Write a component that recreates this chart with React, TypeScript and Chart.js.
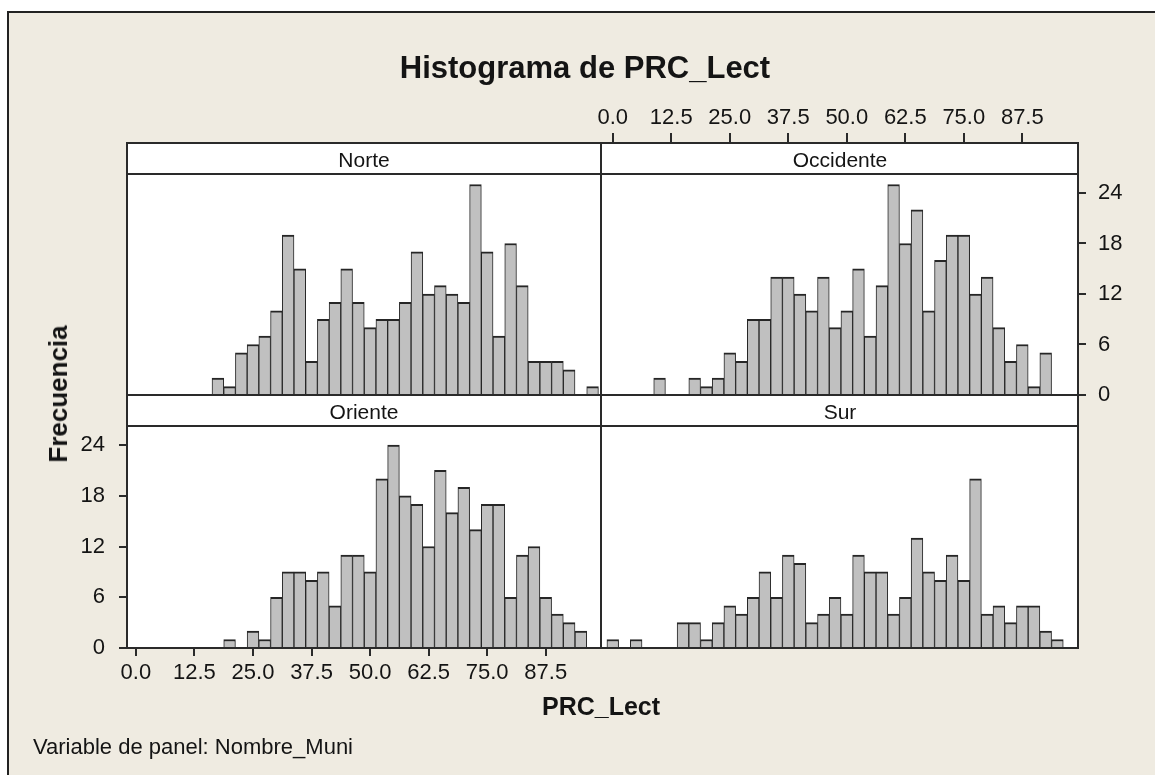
import React, { useEffect, useRef } from 'react';
import { Chart, registerables } from 'chart.js';

Chart.register(...registerables);

// ---------- data ----------
const BIN_MIDPOINTS = [
  0, 2.5, 5, 7.5, 10, 12.5, 15, 17.5, 20, 22.5, 25, 27.5, 30, 32.5, 35, 37.5, 40, 42.5, 45, 47.5,
  50, 52.5, 55, 57.5, 60, 62.5, 65, 67.5, 70, 72.5, 75, 77.5, 80, 82.5, 85, 87.5, 90, 92.5, 95, 97.5,
];
const NORTE = [
  0, 0, 0, 0, 0, 0, 0, 2, 1, 5, 6, 7, 10, 19, 15, 4, 9, 11, 15, 11,
  8, 9, 9, 11, 17, 12, 13, 12, 11, 25, 17, 7, 18, 13, 4, 4, 4, 3, 0, 1,
];
const OCCIDENTE = [
  0, 0, 0, 0, 2, 0, 0, 2, 1, 2, 5, 4, 9, 9, 14, 14, 12, 10, 14, 8,
  10, 15, 7, 13, 25, 18, 22, 10, 16, 19, 19, 12, 14, 8, 4, 6, 1, 5, 0, 0,
];
const ORIENTE = [
  0, 0, 0, 0, 0, 0, 0, 0, 1, 0, 2, 1, 6, 9, 9, 8, 9, 5, 11, 11,
  9, 20, 24, 18, 17, 12, 21, 16, 19, 14, 17, 17, 6, 11, 12, 6, 4, 3, 2, 0,
];
const SUR = [
  1, 0, 1, 0, 0, 0, 3, 3, 1, 3, 5, 4, 6, 9, 6, 11, 10, 3, 4, 6,
  4, 11, 9, 9, 4, 6, 13, 9, 8, 11, 8, 20, 4, 5, 3, 5, 5, 2, 1, 0,
];
const X_TICKS = [0, 12.5, 25, 37.5, 50, 62.5, 75, 87.5];
const Y_TICKS = [0, 6, 12, 18, 24];

const TITLE = 'Histograma de PRC_Lect';
const X_TITLE = 'PRC_Lect';
const Y_TITLE = 'Frecuencia';
const FOOTNOTE = 'Variable de panel: Nombre_Muni';

// ---------- styles ----------
const FONT = "'Liberation Sans', Arial, sans-serif";
const TEXT = '#141414';
const LINE = '#2a2a2a';
const W = 1155;
const H = 775;

const whiteBg = {
  id: 'whiteBg',
  beforeDraw(chart: any) {
    const { ctx, chartArea } = chart;
    ctx.save();
    ctx.fillStyle = '#ffffff';
    ctx.fillRect(chartArea.left, chartArea.top, chartArea.right - chartArea.left, chartArea.bottom - chartArea.top);
    ctx.restore();
  },
};

type PanelOpts = {
  counts: number[];
  padding: { top: number; left: number; right: number; bottom: number };
  xMin: number;
  xMax: number;
  showX: boolean;
  xPos: 'top' | 'bottom';
  xTickLen: number;
  xPad: number;
  xSize: number;
  showY: boolean;
  yPos: 'left' | 'right';
  yPad: number;
  ySize: number;
};

function buildConfig(p: PanelOpts): any {
  const tickFont = { family: FONT, size: 22 };
  return {
    type: 'bar',
    data: {
      datasets: [
        {
          data: BIN_MIDPOINTS.map((x, i) => ({ x, y: p.counts[i] })),
          backgroundColor: '#c0c0c0',
          borderColor: '#262626',
          borderWidth: { top: 2, left: 1, right: 1, bottom: 0 },
          borderSkipped: 'start',
          barPercentage: 1,
          categoryPercentage: 1,
        },
      ],
    },
    options: {
      responsive: false,
      animation: false,
      events: [],
      layout: { padding: p.padding },
      plugins: { legend: { display: false }, tooltip: { enabled: false }, title: { display: false } },
      scales: {
        x: {
          type: 'linear',
          position: p.xPos,
          display: p.showX,
          min: p.xMin,
          max: p.xMax,
          offset: false,
          afterBuildTicks: (s: any) => {
            s.ticks = X_TICKS.map((v) => ({ value: v }));
          },
          afterFit: (s: any) => {
            s.height = p.xSize;
          },
          ticks: {
            font: tickFont,
            color: TEXT,
            padding: p.xPad,
            maxRotation: 0,
            minRotation: 0,
            autoSkip: false,
            callback: (v: any) => Number(v).toFixed(1),
          },
          grid: {
            display: true,
            drawOnChartArea: false,
            drawTicks: true,
            tickLength: p.xTickLen,
            color: LINE,
            lineWidth: 2,
            offset: false,
          },
          border: { display: false },
        },
        y: {
          type: 'linear',
          position: p.yPos,
          display: p.showY,
          min: 0,
          max: 26.25,
          afterBuildTicks: (s: any) => {
            s.ticks = Y_TICKS.map((v) => ({ value: v }));
          },
          afterFit: (s: any) => {
            s.width = p.ySize;
          },
          ticks: { font: tickFont, color: TEXT, padding: p.yPad, autoSkip: false },
          grid: {
            display: true,
            drawOnChartArea: false,
            drawTicks: true,
            tickLength: 8,
            color: LINE,
            lineWidth: 2,
          },
          border: { display: false },
        },
      },
    },
    plugins: [whiteBg],
  };
}

// Panel geometry (pixels of the page)
const LEFT_X0 = 127;
const MID_X = 601;
const RIGHT_X0 = 602;
const RIGHT_X1 = 1078;
const TOP_STRIP = 143;
const TOP_PLOT = 174;
const MID_Y = 395;
const BOT_PLOT = 426;
const BOT_Y = 648;

const PANELS: PanelOpts[] = [
  // Norte (top-left)
  {
    counts: NORTE,
    padding: { top: TOP_PLOT, left: LEFT_X0, right: W - MID_X, bottom: H - MID_Y },
    xMin: -1.9, xMax: 99.3, showX: false, xPos: 'bottom', xTickLen: 8, xPad: 4, xSize: 0,
    showY: false, yPos: 'left', yPad: 14, ySize: 0,
  },
  // Occidente (top-right) with top x axis and right y axis
  {
    counts: OCCIDENTE,
    padding: { top: TOP_PLOT - 80, left: RIGHT_X0, right: W - RIGHT_X1 - 60, bottom: H - MID_Y },
    xMin: -2.3, xMax: 99.4, showX: true, xPos: 'top', xTickLen: 41, xPad: 2, xSize: 80,
    showY: true, yPos: 'right', yPad: 12, ySize: 60,
  },
  // Oriente (bottom-left) with bottom x axis and left y axis
  {
    counts: ORIENTE,
    padding: { top: BOT_PLOT, left: LEFT_X0 - 60, right: W - MID_X, bottom: H - BOT_Y - 50 },
    xMin: -1.9, xMax: 99.3, showX: true, xPos: 'bottom', xTickLen: 8, xPad: 4, xSize: 50,
    showY: true, yPos: 'left', yPad: 14, ySize: 60,
  },
  // Sur (bottom-right)
  {
    counts: SUR,
    padding: { top: BOT_PLOT, left: RIGHT_X0, right: W - RIGHT_X1, bottom: H - BOT_Y },
    xMin: -2.3, xMax: 99.4, showX: false, xPos: 'bottom', xTickLen: 8, xPad: 4, xSize: 0,
    showY: false, yPos: 'right', yPad: 12, ySize: 0,
  },
];

const STRIPS = [
  { label: 'Norte', x: (LEFT_X0 + MID_X) / 2, y: (TOP_STRIP + TOP_PLOT) / 2 },
  { label: 'Occidente', x: (RIGHT_X0 + RIGHT_X1) / 2, y: (TOP_STRIP + TOP_PLOT) / 2 },
  { label: 'Oriente', x: (LEFT_X0 + MID_X) / 2, y: (MID_Y + BOT_PLOT) / 2 },
  { label: 'Sur', x: (RIGHT_X0 + RIGHT_X1) / 2, y: (MID_Y + BOT_PLOT) / 2 },
];

function Panel({ opts }: { opts: PanelOpts }) {
  const ref = useRef<HTMLCanvasElement>(null);
  useEffect(() => {
    const chart = new Chart(ref.current as HTMLCanvasElement, buildConfig(opts));
    return () => chart.destroy();
  }, [opts]);
  return (
    <canvas
      ref={ref}
      width={W}
      height={H}
      style={{ position: 'absolute', left: 0, top: 0, width: W, height: H }}
    />
  );
}

function CenterText({ x, y, text, size, bold, rotate }: { x: number; y: number; text: string; size: number; bold?: boolean; rotate?: boolean }) {
  return (
    <div
      style={{
        position: 'absolute',
        left: x,
        top: y,
        transform: `translate(-50%, -50%)${rotate ? ' rotate(-90deg)' : ''}`,
        fontFamily: FONT,
        fontSize: size,
        fontWeight: bold ? 700 : 400,
        lineHeight: 1,
        whiteSpace: 'nowrap',
        color: TEXT,
      }}
    >
      {text}
    </div>
  );
}

function Rect({ left, top, width, height, bg }: { left: number; top: number; width: number; height: number; bg: string }) {
  return <div style={{ position: 'absolute', left, top, width, height, background: bg }} />;
}

export default function App() {
  return (
    <div style={{ position: 'fixed', left: 0, top: 0, width: W, height: H, background: '#ffffff', overflow: 'hidden' }}>
      {/* cream window */}
      <div
        style={{
          position: 'absolute',
          left: 7,
          top: 11,
          width: W,
          height: H,
          background: '#efebe1',
          borderLeft: '2px solid #222',
          borderTop: '2px solid #222',
        }}
      />
      {PANELS.map((p, i) => (
        <Panel key={i} opts={p} />
      ))}
      {/* strips */}
      <Rect left={LEFT_X0} top={TOP_STRIP} width={RIGHT_X1 - LEFT_X0} height={TOP_PLOT - TOP_STRIP} bg="#ffffff" />
      <Rect left={LEFT_X0} top={MID_Y} width={RIGHT_X1 - LEFT_X0} height={BOT_PLOT - MID_Y} bg="#ffffff" />
      {/* frame and dividers */}
      <div
        style={{
          position: 'absolute',
          left: LEFT_X0 - 1,
          top: TOP_STRIP - 1,
          width: RIGHT_X1 - LEFT_X0 + 2,
          height: BOT_Y - TOP_STRIP + 2,
          border: `2px solid ${LINE}`,
          boxSizing: 'border-box',
        }}
      />
      <Rect left={MID_X - 1} top={TOP_STRIP - 1} width={2} height={BOT_Y - TOP_STRIP + 2} bg={LINE} />
      <Rect left={LEFT_X0} top={TOP_PLOT - 1} width={RIGHT_X1 - LEFT_X0} height={2} bg={LINE} />
      <Rect left={LEFT_X0} top={MID_Y - 1} width={RIGHT_X1 - LEFT_X0} height={2} bg={LINE} />
      <Rect left={LEFT_X0} top={BOT_PLOT - 1} width={RIGHT_X1 - LEFT_X0} height={2} bg={LINE} />
      {STRIPS.map((s) => (
        <CenterText key={s.label} x={s.x} y={s.y} text={s.label} size={21} />
      ))}
      <CenterText x={585} y={67} text={TITLE} size={31} bold />
      <CenterText x={601} y={706} text={X_TITLE} size={25} bold />
      <CenterText x={58} y={394} text={Y_TITLE} size={26} bold rotate />
      <div
        style={{
          position: 'absolute',
          left: 33,
          top: 747,
          transform: 'translateY(-50%)',
          fontFamily: FONT,
          fontSize: 22,
          lineHeight: 1,
          whiteSpace: 'nowrap',
          color: TEXT,
        }}
      >
        {FOOTNOTE}
      </div>
    </div>
  );
}
